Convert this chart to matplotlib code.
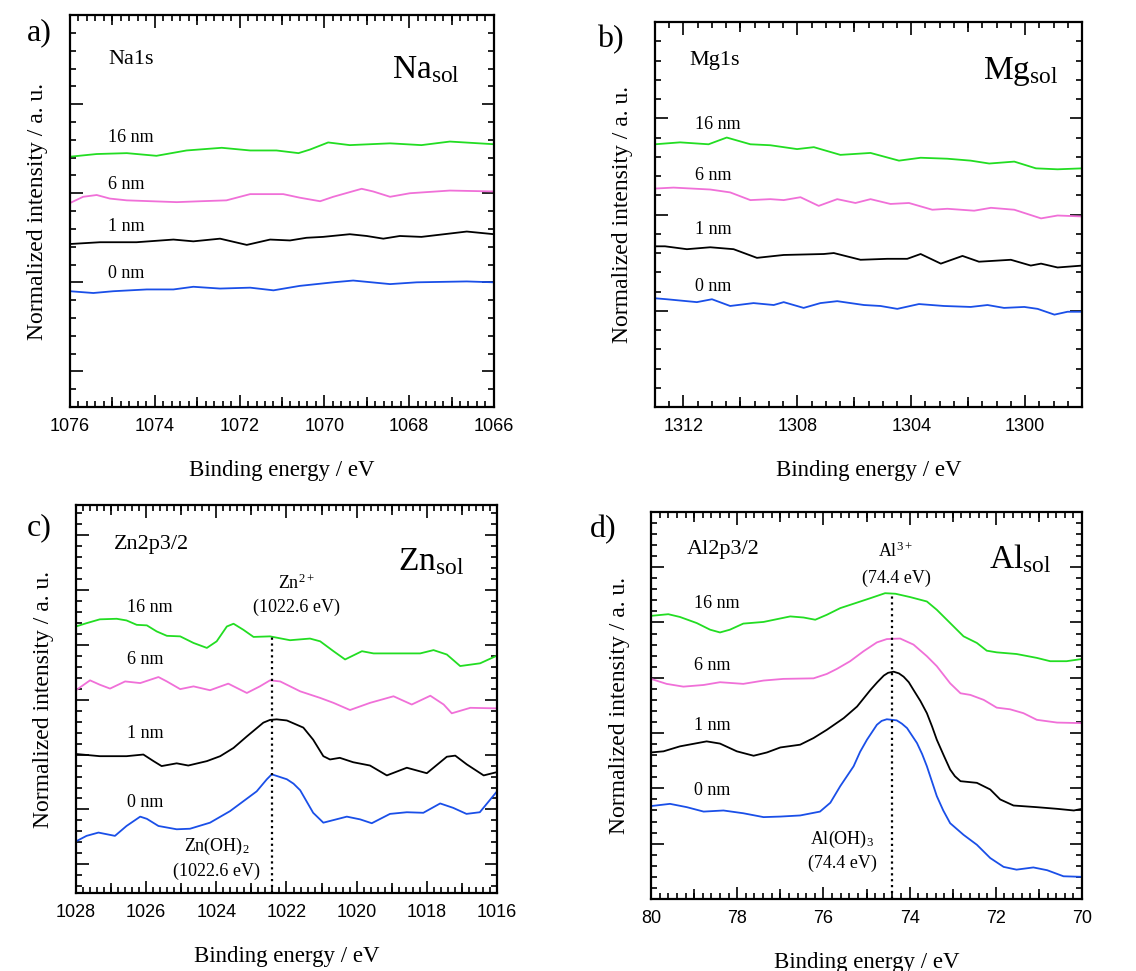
import matplotlib
matplotlib.use('Agg')
import matplotlib.pyplot as plt
from matplotlib.ticker import MultipleLocator, NullFormatter, NullLocator

plt.rcParams['font.family'] = 'Liberation Serif'
plt.rcParams['mathtext.fontset'] = 'custom'
plt.rcParams['mathtext.rm'] = 'Liberation Serif'
plt.rcParams['mathtext.it'] = 'Liberation Serif:italic'

GREEN = '#22dd22'
PINK = '#f070d8'
BLACK = '#000000'
BLUE = '#1a4fe8'

# ---- a) Na1s ----
na_16_x = [1076.00, 1075.37, 1074.66, 1073.96, 1073.25, 1072.42, 1071.75, 1071.13, 1070.61, 1070.34,
           1069.91, 1069.40, 1068.45, 1067.71, 1067.04, 1066.00]
na_16_y = [2.41, 2.44, 2.45, 2.42, 2.48, 2.51, 2.48, 2.48, 2.45, 2.49, 2.57, 2.54, 2.56, 2.54, 2.58, 2.55]
na_6_x = [1076.00, 1075.69, 1075.37, 1075.06, 1074.66, 1073.48, 1072.93, 1072.31, 1071.75, 1070.97,
          1070.58, 1070.10, 1069.79, 1069.12, 1068.85, 1068.45, 1067.98, 1067.04, 1066.00]
na_6_y = [1.89, 1.96, 1.98, 1.94, 1.92, 1.90, 1.91, 1.92, 1.99, 1.99, 1.95, 1.91, 1.96, 2.05, 2.02,
          1.96, 2.00, 2.03, 2.02]
na_1_x = [1076.00, 1075.29, 1074.43, 1073.56, 1073.09, 1072.46, 1071.83, 1071.28, 1070.81, 1070.42,
          1070.03, 1069.40, 1069.00, 1068.61, 1068.22, 1067.71, 1066.64, 1066.00]
na_1_y = [1.43, 1.45, 1.45, 1.48, 1.46, 1.49, 1.42, 1.48, 1.47, 1.50, 1.51, 1.54, 1.52, 1.49, 1.52,
          1.51, 1.57, 1.54]
na_0_x = [1076.00, 1075.45, 1074.98, 1074.19, 1073.56, 1073.09, 1072.46, 1071.75, 1071.20, 1070.58,
          1069.79, 1069.32, 1068.45, 1067.82, 1066.64, 1066.00]
na_0_y = [0.90, 0.88, 0.90, 0.92, 0.92, 0.95, 0.93, 0.94, 0.91, 0.96, 1.00, 1.02, 0.98, 1.00, 1.01, 1.00]

# ---- b) Mg1s ----
mg_16_x = [1313.00, 1312.12, 1311.12, 1310.48, 1309.65, 1308.95, 1308.01, 1307.42, 1306.49, 1305.43,
           1304.43, 1303.67, 1302.73, 1301.91, 1301.26, 1300.38, 1299.62, 1298.86, 1297.98]
mg_16_y = [2.73, 2.75, 2.73, 2.80, 2.73, 2.72, 2.68, 2.70, 2.62, 2.64, 2.56, 2.59, 2.58, 2.56, 2.53,
           2.55, 2.48, 2.47, 2.48]
mg_6_x = [1313.00, 1312.35, 1311.06, 1310.36, 1309.65, 1308.95, 1308.48, 1307.89, 1307.25, 1306.60,
          1305.96, 1305.43, 1304.73, 1304.08, 1303.26, 1302.73, 1301.79, 1301.20, 1300.38, 1299.44,
          1298.86, 1297.98]
mg_6_y = [2.27, 2.28, 2.26, 2.23, 2.15, 2.16, 2.15, 2.18, 2.09, 2.16, 2.12, 2.16, 2.11, 2.12, 2.05,
          2.06, 2.04, 2.07, 2.05, 1.96, 1.99, 1.98]
mg_1_x = [1313.00, 1312.65, 1311.88, 1311.06, 1310.24, 1309.42, 1308.48, 1307.07, 1306.72, 1305.78,
          1304.84, 1304.14, 1303.67, 1302.96, 1302.20, 1301.62, 1300.50, 1299.80, 1299.44, 1298.86,
          1297.98]
mg_1_y = [1.67, 1.67, 1.64, 1.66, 1.64, 1.55, 1.58, 1.59, 1.60, 1.53, 1.54, 1.54, 1.59, 1.49, 1.57,
          1.51, 1.53, 1.47, 1.49, 1.45, 1.47]
mg_0_x = [1313.00, 1312.59, 1311.53, 1311.00, 1310.36, 1309.54, 1308.83, 1308.48, 1307.78, 1307.19,
          1306.60, 1305.66, 1305.08, 1304.49, 1303.73, 1302.85, 1301.91, 1301.32, 1300.74, 1300.03,
          1299.56, 1298.97, 1298.51, 1297.98]
mg_0_y = [1.13, 1.12, 1.09, 1.12, 1.05, 1.08, 1.06, 1.09, 1.03, 1.08, 1.10, 1.06, 1.05, 1.02, 1.07,
          1.05, 1.04, 1.06, 1.03, 1.04, 1.02, 0.96, 0.99, 0.99]

# ---- c) Zn2p3/2 ----
zn_16_x = [1028.00, 1027.70, 1027.32, 1026.84, 1026.56, 1026.27, 1025.98, 1025.70, 1025.41, 1025.03,
           1024.65, 1024.27, 1023.99, 1023.70, 1023.51, 1023.23, 1022.94, 1022.47, 1021.90, 1021.33,
           1021.04, 1020.66, 1020.33, 1019.85, 1019.52, 1018.76, 1018.19, 1017.81, 1017.43, 1017.05,
           1016.48, 1016.00]
zn_16_y = [4.33, 4.39, 4.46, 4.47, 4.44, 4.36, 4.35, 4.24, 4.16, 4.15, 4.03, 3.94, 4.06, 4.33, 4.38,
           4.27, 4.14, 4.15, 4.08, 4.11, 4.06, 3.88, 3.73, 3.88, 3.84, 3.84, 3.84, 3.90, 3.82, 3.61,
           3.66, 3.80]
zn_6_x = [1028.00, 1027.60, 1027.32, 1027.03, 1026.60, 1026.17, 1025.65, 1025.41, 1025.03, 1024.65,
          1024.18, 1023.66, 1023.13, 1022.76, 1022.47, 1022.18, 1021.61, 1021.04, 1020.66, 1020.19,
          1019.62, 1018.95, 1018.43, 1017.90, 1017.52, 1017.29, 1016.76, 1016.00]
zn_6_y = [3.17, 3.35, 3.27, 3.20, 3.33, 3.30, 3.41, 3.33, 3.19, 3.24, 3.17, 3.29, 3.12, 3.24, 3.35,
          3.33, 3.15, 3.03, 2.94, 2.81, 2.94, 3.06, 2.91, 3.07, 2.91, 2.75, 2.85, 2.84]
zn_1_x = [1028.00, 1027.32, 1026.56, 1026.08, 1025.79, 1025.56, 1025.13, 1024.80, 1024.27, 1023.89,
          1023.51, 1023.13, 1022.66, 1022.47, 1022.28, 1021.99, 1021.52, 1021.24, 1020.95, 1020.76,
          1020.48, 1020.10, 1019.62, 1019.14, 1018.57, 1018.00, 1017.43, 1017.19, 1016.86, 1016.38,
          1016.00]
zn_1_y = [2.01, 1.97, 1.97, 2.00, 1.88, 1.79, 1.84, 1.80, 1.88, 1.97, 2.12, 2.33, 2.58, 2.63, 2.64,
          2.62, 2.49, 2.27, 1.97, 1.91, 1.94, 1.86, 1.80, 1.62, 1.76, 1.66, 1.96, 1.98, 1.82, 1.62, 1.68]
zn_0_x = [1028.00, 1027.70, 1027.36, 1026.89, 1026.56, 1026.17, 1025.98, 1025.65, 1025.13, 1024.75,
          1024.18, 1023.61, 1023.23, 1022.85, 1022.56, 1022.42, 1021.99, 1021.80, 1021.61, 1021.24,
          1020.95, 1020.28, 1019.90, 1019.57, 1019.05, 1018.57, 1018.10, 1017.62, 1017.25, 1016.87,
          1016.49, 1016.00]
zn_0_y = [0.42, 0.52, 0.58, 0.52, 0.70, 0.87, 0.83, 0.70, 0.64, 0.65, 0.76, 0.97, 1.15, 1.33, 1.55,
          1.64, 1.55, 1.47, 1.35, 0.94, 0.76, 0.87, 0.82, 0.75, 0.92, 0.95, 0.94, 1.11, 1.03, 0.92,
          0.95, 1.33]

# ---- d) Al2p3/2 ----
al_16_x = [80.00, 79.60, 79.33, 78.94, 78.63, 78.40, 78.17, 77.86, 77.39, 77.08, 76.77, 76.46, 76.19,
           75.92, 75.61, 75.22, 74.91, 74.57, 74.33, 73.99, 73.60, 73.37, 73.06, 72.75, 72.44, 72.21,
           71.98, 71.52, 71.05, 70.74, 70.36, 70.00]
al_16_y = [5.12, 5.15, 5.10, 4.99, 4.87, 4.82, 4.87, 4.98, 5.01, 5.06, 5.11, 5.09, 5.05, 5.14, 5.26,
           5.36, 5.44, 5.53, 5.52, 5.46, 5.38, 5.23, 4.99, 4.75, 4.63, 4.49, 4.46, 4.43, 4.36, 4.30,
           4.30, 4.34]
al_6_x = [80.00, 79.64, 79.25, 78.78, 78.40, 77.86, 77.39, 76.93, 76.23, 75.92, 75.69, 75.38, 75.07,
          74.76, 74.53, 74.22, 73.91, 73.60, 73.37, 73.06, 72.82, 72.59, 72.28, 71.98, 71.67, 71.36,
          71.05, 70.58, 70.00]
al_6_y = [3.98, 3.89, 3.84, 3.87, 3.92, 3.89, 3.95, 3.98, 3.99, 4.07, 4.16, 4.30, 4.48, 4.64, 4.70,
          4.71, 4.60, 4.39, 4.21, 3.90, 3.72, 3.69, 3.60, 3.46, 3.43, 3.36, 3.24, 3.19, 3.18]
al_1_x = [80.00, 79.71, 79.33, 78.71, 78.40, 78.01, 77.62, 77.31, 77.00, 76.54, 76.23, 75.92, 75.53,
          75.22, 74.91, 74.75, 74.60, 74.50, 74.37, 74.25, 74.14, 74.02, 73.91, 73.75, 73.60, 73.48,
          73.37, 73.20, 73.06, 72.95, 72.82, 72.44, 72.13, 71.90, 71.59, 71.05, 70.58, 70.19, 70.00]
al_1_y = [2.65, 2.67, 2.76, 2.85, 2.81, 2.67, 2.59, 2.65, 2.74, 2.79, 2.91, 3.06, 3.27, 3.48, 3.78,
          3.92, 4.04, 4.09, 4.11, 4.08, 4.02, 3.92, 3.78, 3.58, 3.36, 3.12, 2.88, 2.58, 2.34, 2.22,
          2.13, 2.10, 1.98, 1.80, 1.69, 1.66, 1.63, 1.60, 1.63]
al_0_x = [80.00, 79.56, 79.17, 78.78, 78.32, 77.86, 77.39, 77.00, 76.54, 76.08, 75.84, 75.61, 75.30,
          75.15, 74.99, 74.76, 74.65, 74.53, 74.30, 74.18, 74.06, 73.83, 73.71, 73.60, 73.37, 73.22,
          73.06, 72.75, 72.44, 72.13, 71.82, 71.52, 71.13, 70.81, 70.43, 70.00]
al_0_y = [1.68, 1.72, 1.66, 1.58, 1.60, 1.55, 1.48, 1.49, 1.51, 1.58, 1.74, 2.04, 2.40, 2.66, 2.88,
          3.15, 3.22, 3.25, 3.23, 3.17, 3.09, 2.82, 2.62, 2.40, 1.86, 1.60, 1.37, 1.16, 0.98, 0.74,
          0.58, 0.53, 0.57, 0.52, 0.41, 0.40]

thickness_labels = ['16 nm', '6 nm', '1 nm', '0 nm']
colors = [GREEN, PINK, BLACK, BLUE]

fig = plt.figure(figsize=(11.36, 9.71), dpi=100)

panels = [
    dict(rect=[0.0616, 0.5808, 0.3732, 0.4037], xlim=(1076, 1066), ylim=(-0.4, 4.0),
         xmajor=2, xminor=0.2, xmid=[1075, 1073, 1071, 1069, 1067],
         series=[(na_16_x, na_16_y), (na_6_x, na_6_y), (na_1_x, na_1_y), (na_0_x, na_0_y)],
         lab_x=1075.1, lab_y=[2.63, 2.10, 1.63, 1.10],
         core='Na1s', core_pos=(0.09, 0.887), sol=r'Na$_{\rm sol}$', sol_pos=(0.92, 0.86),
         letter='a)', letter_pos=(27, 33)),
    dict(rect=[0.5766, 0.5808, 0.3759, 0.3965], xlim=(1313, 1298), ylim=(0, 4.0),
         xmajor=4, xminor=0.5, xmid=[1310, 1306, 1302],
         series=[(mg_16_x, mg_16_y), (mg_6_x, mg_6_y), (mg_1_x, mg_1_y), (mg_0_x, mg_0_y)],
         lab_x=1311.6, lab_y=[2.94, 2.41, 1.84, 1.25],
         core='Mg1s', core_pos=(0.08, 0.899), sol=r'Mg$_{\rm sol}$', sol_pos=(0.945, 0.872),
         letter='b)', letter_pos=(597, 40)),
    dict(rect=[0.0669, 0.0803, 0.3706, 0.3996], xlim=(1028, 1016), ylim=(-0.52, 6.54),
         xmajor=2, xminor=0.2, xmid=[1027, 1025, 1023, 1021, 1019, 1017],
         series=[(zn_16_x, zn_16_y), (zn_6_x, zn_6_y), (zn_1_x, zn_1_y), (zn_0_x, zn_0_y)],
         lab_x=1026.55, lab_y=[4.68, 3.73, 2.39, 1.12],
         core='Zn2p3/2', core_pos=(0.089, 0.897), sol=r'Zn$_{\rm sol}$', sol_pos=(0.921, 0.854),
         letter='c)', letter_pos=(27, 528)),
    dict(rect=[0.5731, 0.0742, 0.3794, 0.3986], xlim=(80, 70), ylim=(0, 7.0),
         xmajor=2, xminor=0.2, xmid=[79, 77, 75, 73, 71],
         series=[(al_16_x, al_16_y), (al_6_x, al_6_y), (al_1_x, al_1_y), (al_0_x, al_0_y)],
         lab_x=79.0, lab_y=[5.34, 4.23, 3.13, 1.96],
         core='Al2p3/2', core_pos=(0.083, 0.904), sol=r'Al$_{\rm sol}$', sol_pos=(0.93, 0.878),
         letter='d)', letter_pos=(590, 530)),
]

axes = []
for p in panels:
    ax = fig.add_axes(p['rect'])
    axes.append(ax)
    for (xs, ys), c in zip(p['series'], colors):
        ax.plot(xs, ys, color=c, lw=1.3)
    for txt, yy in zip(thickness_labels, p['lab_y']):
        ax.text(p['lab_x'], yy, txt, fontsize=13, ha='left', va='center')
    ax.set_xlim(*p['xlim'])
    ax.set_ylim(*p['ylim'])
    ax.xaxis.set_major_locator(MultipleLocator(p['xmajor']))
    ax.xaxis.set_minor_locator(MultipleLocator(p['xminor']))
    ax.yaxis.set_major_locator(MultipleLocator(1))
    ax.yaxis.set_minor_locator(MultipleLocator(0.2))
    ax.yaxis.set_major_formatter(NullFormatter())
    ax.tick_params(which='both', direction='in', top=True, right=True, width=1.2)
    ax.tick_params(which='major', length=9)
    ax.tick_params(which='minor', length=4.5)
    ax.tick_params(axis='x', which='major', pad=8)
    for lab in ax.get_xticklabels():
        lab.set_fontfamily('Liberation Sans')
        lab.set_fontsize(13)
    for s in ax.spines.values():
        s.set_linewidth(1.6)

    # medium-length ticks between the labelled ones, top and bottom
    for side in ['bottom', 'top']:
        sec = ax.secondary_xaxis(side)
        sec.set_xticks(p['xmid'])
        sec.xaxis.set_major_formatter(NullFormatter())
        sec.xaxis.set_minor_locator(NullLocator())
        sec.tick_params(direction='in', length=7, width=1.2)
        sec.spines[side].set_visible(False)

    ax.set_xlabel('Binding energy / eV', fontsize=16.5, labelpad=18)
    ax.set_ylabel('Normalized intensity / a. u.', fontsize=17, labelpad=12)
    ax.text(p['core_pos'][0], p['core_pos'][1], p['core'], transform=ax.transAxes,
            fontsize=16, ha='left', va='center')
    ax.text(p['sol_pos'][0], p['sol_pos'][1], p['sol'], transform=ax.transAxes,
            fontsize=24, ha='right', va='center')
    fig.text(p['letter_pos'][0] / 1136, 1 - p['letter_pos'][1] / 971, p['letter'],
             fontsize=23, ha='left', va='center')

# peak markers
ax_c, ax_d = axes[2], axes[3]
zn_peak = 1022.42
ax_c.plot([zn_peak, zn_peak], [-0.52, 4.15], color='black', ls=':', lw=1.6)
ax_c.text(1021.71, 5.12, r'Zn$^{2+}$', fontsize=13, ha='center', va='center')
ax_c.text(1021.71, 4.67, '(1022.6 eV)', fontsize=13, ha='center', va='center')
ax_c.text(1023.99, 0.33, r'Zn(OH)$_2$', fontsize=13, ha='center', va='center')
ax_c.text(1023.99, -0.12, '(1022.6 eV)', fontsize=13, ha='center', va='center')

al_peak = 74.40
ax_d.plot([al_peak, al_peak], [0, 5.52], color='black', ls=':', lw=1.6)
ax_d.text(74.33, 6.28, r'Al$^{3+}$', fontsize=13, ha='center', va='center')
ax_d.text(74.30, 5.80, '(74.4 eV)', fontsize=13, ha='center', va='center')
ax_d.text(75.57, 1.08, r'Al(OH)$_3$', fontsize=13, ha='center', va='center')
ax_d.text(75.55, 0.64, '(74.4 eV)', fontsize=13, ha='center', va='center')

fig.savefig('out.png', dpi=100)
